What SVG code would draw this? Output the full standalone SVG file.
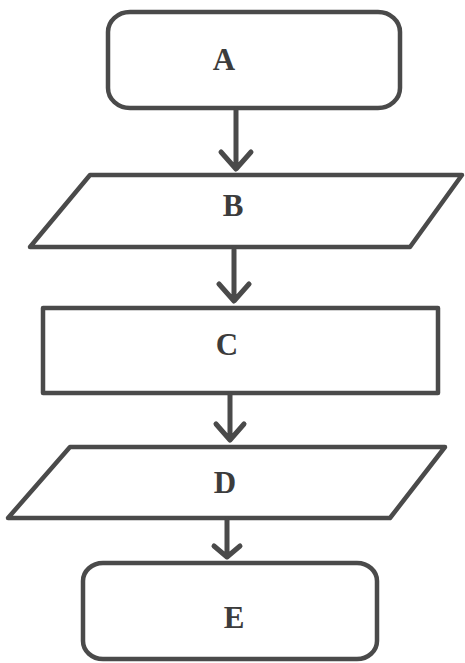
<svg xmlns="http://www.w3.org/2000/svg" width="465" height="663" viewBox="0 0 465 663">
<style>
.shape{fill:none;stroke:#4a4a4a;stroke-width:4.5;stroke-linejoin:round}
.lbl{font-family:"Liberation Serif","Times New Roman",serif;font-weight:bold;font-size:31px;fill:#3c3c3c;text-anchor:middle}
.conn{fill:none;stroke:#4a4a4a;stroke-width:5;stroke-linecap:round;stroke-linejoin:round}
</style>
<rect width="465" height="663" fill="#ffffff"/>
<g id="A"><rect class="shape" x="108" y="12" width="292" height="96" rx="22" ry="20"/><text class="lbl" x="224" y="70">A</text></g>
<g id="B"><polygon class="shape" points="90,175 462,175 410,247 30,247"/><text class="lbl" x="233" y="216">B</text></g>
<g id="C"><rect class="shape" x="43" y="308" width="395" height="85"/><text class="lbl" x="227" y="355">C</text></g>
<g id="D"><polygon class="shape" points="70,447 445,447 390,518 8,518"/><text class="lbl" x="225" y="493">D</text></g>
<g id="E"><rect class="shape" x="83" y="563" width="294" height="96" rx="20" ry="18"/><text class="lbl" x="234" y="628">E</text></g>
<g id="connectors">
<path class="conn" d="M236,110 V168 M221,152 L236,169 L251,152"/>
<path class="conn" d="M234,250 V300 M219,284 L234,301 L249,284"/>
<path class="conn" d="M230,395 V439 M216,424 L230,440 L244,424"/>
<path class="conn" d="M227,520 V556 M214,546 L227,557 L240,546"/>
</g>
</svg>
